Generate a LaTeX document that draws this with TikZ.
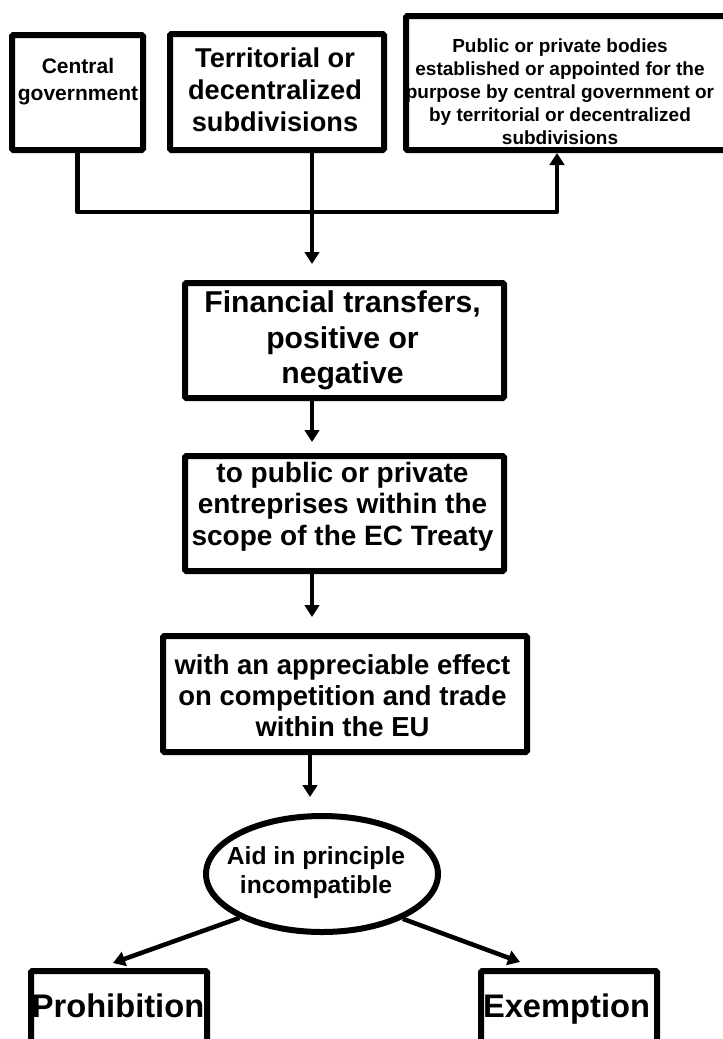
\documentclass[tikz,border=0pt]{standalone}
\usepackage{fontspec}
\setmainfont{Liberation Sans}
\usetikzlibrary{arrows.meta,shapes.geometric}
\tikzset{
  boxnode/.style={draw=black, line width=4.5pt, rounded corners=1.1pt, inner sep=0pt, fill=white},
  ellnode/.style={draw=black, ellipse, line width=4.5pt, inner sep=0pt, fill=white},
  lbl/.style 2 args={align=center, inner sep=0pt, font=\bfseries\fontsize{#1}{#2}\selectfont},
  conn/.style={line width=3.4pt, line join=round},
  arr/.style={conn, -{Triangle[width=10.9pt,length=9pt]}},
}
\begin{document}
\begin{tikzpicture}[x=0.75pt,y=-0.75pt]
\path[use as bounding box] (0,0) rectangle (723,1039);
\clip (0,0) rectangle (723,1039);

% top boxes
\node[boxnode, minimum width=98.25pt, minimum height=86.25pt] (b1) at (77.5,92.5) {};
\node[lbl={15.75pt}{20.25pt}] (t1) at (78,82) {Central\\government};

\node[boxnode, minimum width=160.5pt, minimum height=87pt] (b2) at (277,92) {};
\node[lbl={20.4pt}{24pt}] (t2) at (275,90) {Territorial or\\decentralized\\subdivisions};

\node[boxnode, minimum width=244.5pt, minimum height=100.5pt] (b3) at (569,83) {};
\node[lbl={14.25pt}{17.2pt}] (t3) at (560,92) {Public or private bodies\\established or appointed for the\\purpose by central government or\\by territorial or decentralized\\subdivisions};

% middle boxes
\node[boxnode, minimum width=239.25pt, minimum height=86.25pt] (fin) at (344.5,340.5) {};
\node[lbl={22.6pt}{26.6pt}] (tfin) at (342.5,340.5) {Financial transfers,\\positive or\\negative};

\node[boxnode, minimum width=239.25pt, minimum height=86.25pt] (pub) at (344.5,513.5) {};
\node[lbl={21pt}{23.6pt}] (tpub) at (342.5,506.5) {to public or private\\entreprises within the\\scope of the EC Treaty};

\node[boxnode, minimum width=273pt, minimum height=87pt] (eff) at (345,694) {};
\node[lbl={20.6pt}{23.25pt}] (teff) at (342.5,696) {with an appreciable effect\\on competition and trade\\within the EU};

\node[ellnode, minimum width=174pt, minimum height=87pt] (ell) at (322,874) {};
\node[lbl={18.5pt}{21.75pt}] (tell) at (316,872.5) {Aid in principle\\incompatible};

% bottom boxes
\node[boxnode, minimum width=132pt, minimum height=94.5pt] (proh) at (119,1034) {};
\node[lbl={24.5pt}{28pt}, anchor=base] (tproh) at (118,1017) {Prohibition};

\node[boxnode, minimum width=132pt, minimum height=94.5pt] (exem) at (569,1034) {};
\node[lbl={24.5pt}{28pt}, anchor=base] (texem) at (566.5,1017) {Exemption};

% connectors
\coordinate (jr) at (557,212);
\coordinate (ax) at (312,0);
\coordinate (ax2) at (310,0);
\coordinate (tipL) at (113,963);
\coordinate (tipR) at (520,962);

\draw[arr] (b1.south) |- (jr) -- (b3.south -| jr);
\draw[arr, shorten >=12pt] (b2.south -| ax) -- (fin.north -| ax);
\draw[arr, shorten >=8.25pt] (fin.south -| ax) -- (pub.north -| ax);
\draw[arr, shorten >=12pt] (pub.south -| ax) -- (eff.north -| ax);
\draw[arr, shorten >=12pt] (eff.south -| ax2) -- (ell.north -| ax2);
\draw[arr] (ell.208) -- (tipL);
\draw[arr] (ell.331) -- (tipR);
\end{tikzpicture}
\end{document}
